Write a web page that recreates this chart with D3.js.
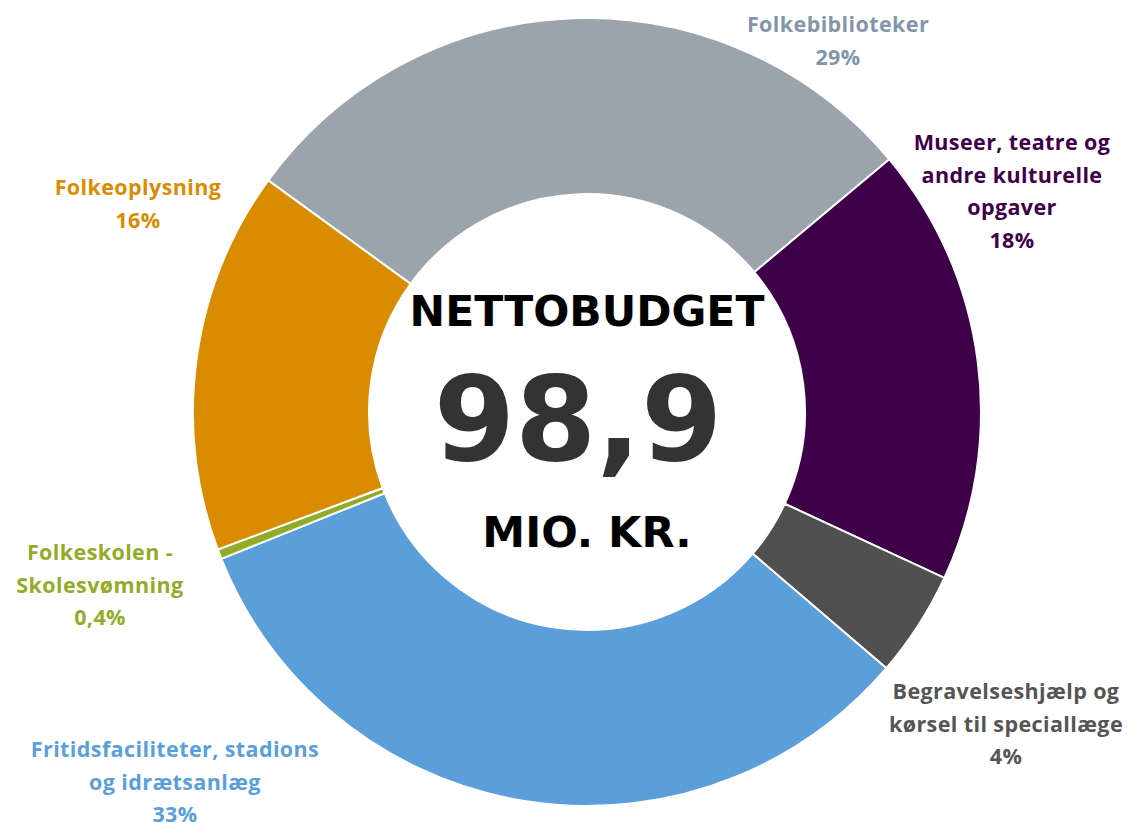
<!DOCTYPE html>
<html>
<head>
<meta charset="utf-8">
<script src="https://cdn.jsdelivr.net/npm/d3@7"></script>
<style>
  body { margin: 0; background: #fff; }
  .lbl { font-family: "Open Sans", Lato, sans-serif; font-weight: 700; letter-spacing: 0.4px; }
  .center { font-family: "DejaVu Sans", Verdana, sans-serif; font-weight: 700; }
</style>
</head>
<body>
<div id="chart"></div>
<script>
// Nettobudget, mio. kr.
const categories = [
    'Folkebiblioteker',
    'Museer, teatre og andre kulturelle opgaver',
    'Begravelseshjælp og kørsel til speciallæge',
    'Fritidsfaciliteter, stadions og idrætsanlæg',
    'Folkeskolen - Skolesvømning',
    'Folkeoplysning'
];
const values = [28.6, 17.8, 4.3, 32.3, 0.4, 15.5];
const percentLabels = ['29%', '18%', '4%', '33%', '0,4%', '16%'];
const labelLines = [
    ['Folkebiblioteker'],
    ['Museer, teatre og', 'andre kulturelle', 'opgaver'],
    ['Begravelseshjælp og', 'kørsel til speciallæge'],
    ['Fritidsfaciliteter, stadions', 'og idrætsanlæg'],
    ['Folkeskolen -', 'Skolesvømning'],
    ['Folkeoplysning']
];
const colors = ['#9ba3ac', '#3f004a', '#505050', '#5a9fd9', '#93ab28', '#d98c00'];
const textColors = ['#8495ab', '#3f004a', '#555555', '#5a9fd9', '#93ab28', '#d98c00'];

const dimensions = {
    width: 1127,
    height: 823,
    cx: 587,
    cy: 412,
    outer: 394,
    inner: 218
}

// label anchor points (centre of first line)
const labelPos = [
    [838, 25], [1012, 143], [1006, 692], [175, 750], [100, 553], [138, 188]
];

const svg = d3.select('#chart')
    .append('svg')
    .attr('width', dimensions.width)
    .attr('height', dimensions.height)

const pie = d3.pie()
    .sort(null)
    .value(d => d)
    .startAngle(-54 * Math.PI / 180)
    .endAngle(306 * Math.PI / 180)

const arc = d3.arc()
    .innerRadius(dimensions.inner)
    .outerRadius(dimensions.outer)

const container = svg.append('g')
    .attr('transform', `translate(${dimensions.cx}, ${dimensions.cy})`)

container.selectAll('path')
    .data(pie(values))
    .join('path')
    .attr('d', arc)
    .attr('fill', (d, i) => colors[i])
    .attr('stroke', '#fff')
    .attr('stroke-width', 2)

// Labels
const labels = svg.append('g')
labelLines.forEach((lines, i) => {
    const t = labels.append('text')
        .classed('lbl', true)
        .attr('text-anchor', 'middle')
        .attr('fill', textColors[i])
        .style('font-size', '21.5px')
    lines.concat([percentLabels[i]]).forEach((line, j) => {
        t.append('tspan')
            .attr('x', labelPos[i][0])
            .attr('y', labelPos[i][1] + j * 32.5 + 7)
            .text(line)
    })
})

// Center text
container.append('text')
    .classed('center', true)
    .attr('text-anchor', 'middle')
    .attr('y', -86)
    .style('font-size', '42.5px')
    .attr('fill', '#000')
    .text('NETTOBUDGET')

container.append('text')
    .classed('center', true)
    .attr('text-anchor', 'middle')
    .attr('x', -9)
    .attr('y', 48)
    .style('font-size', '117px')
    .attr('fill', '#333')
    .text('98,9')

container.append('text')
    .classed('center', true)
    .attr('text-anchor', 'middle')
    .attr('y', 135)
    .style('font-size', '43px')
    .attr('fill', '#000')
    .text('MIO. KR.')
</script>
</body>
</html>
